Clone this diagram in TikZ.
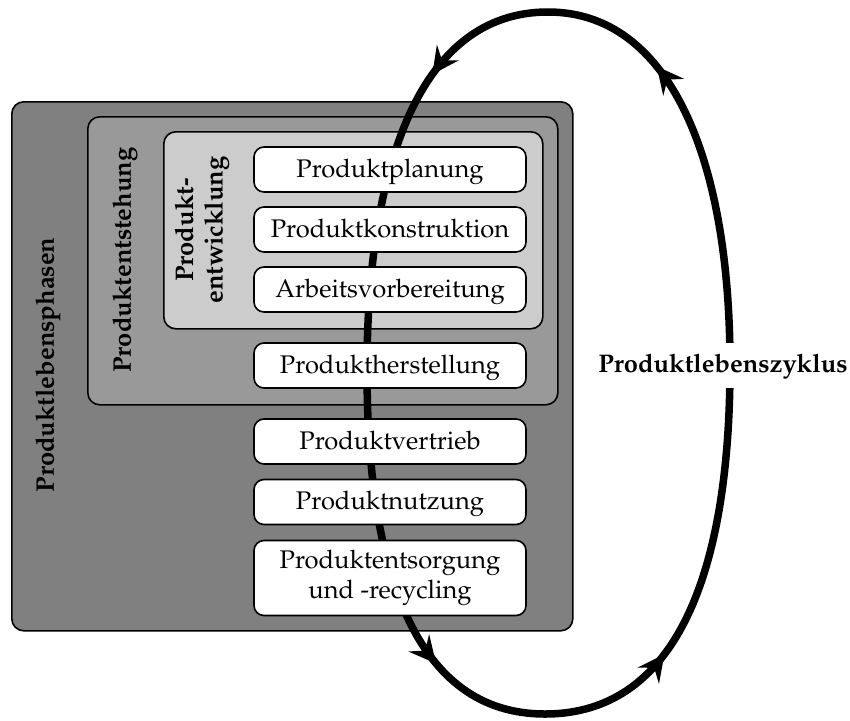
\documentclass[tikz,border=0pt]{standalone}
\usepackage[T1]{fontenc}
\usepackage{mathpazo}
\usetikzlibrary{arrows.meta,decorations.markings}

\newcommand\stagefont{\fontsize{25.5pt}{29.5pt}\selectfont}
\newcommand\headfont{\fontsize{25.5pt}{29.5pt}\selectfont\bfseries}

\definecolor{outergray}{gray}{0.50}
\definecolor{midgray}{gray}{0.60}
\definecolor{innergray}{gray}{0.80}

\tikzset{
  frame/.style={draw=black, line width=1.6pt, rounded corners=12pt,
    anchor=north west, inner sep=0pt},
  stage/.style={draw=black, line width=1.6pt, rounded corners=10pt,
    fill=white, minimum width=272pt, minimum height=45pt, inner sep=0pt,
    font=\stagefont, text height=20pt, text depth=5pt},
  sidelabel/.style={font=\headfont, rotate=90, inner sep=0pt, align=center},
  cycleline/.style={line width=7.5pt,
    >={Stealth[length=27pt,width=27pt,inset=10pt,line width=0pt]},
    postaction={decorate},
    decoration={markings,
      mark=at position 0.175 with {\arrow{>}},
      mark=at position 0.325 with {\arrow{>}},
      mark=at position 0.675 with {\arrow{>}},
      mark=at position 0.825 with {\arrow{>}}}},
}

\begin{document}
\begin{tikzpicture}[x=1pt,y=-1pt]
  \useasboundingbox (0,0) rectangle (850,720);

  % nested phase containers
  \node[frame, fill=outergray, minimum width=561pt, minimum height=529pt] (phasen) at (11,101) {};
  \node[frame, fill=midgray, minimum width=470pt, minimum height=288pt] (entstehung) at (87,116) {};
  \node[frame, fill=innergray, minimum width=379pt, minimum height=197pt] (entwicklung) at (163,131) {};

  \node[sidelabel] (lblphasen) at (48,365) {Produktlebensphasen};
  \node[sidelabel] (lblentstehung) at (125,260) {Produktentstehung};
  \node[sidelabel] (lblentwicklung) at (202,230) {Produkt-\\entwicklung};

  % life cycle loop, running behind the stage boxes
  \coordinate (L) at (367,370);
  \coordinate (B) at (545,714);
  \coordinate (R) at (730,365);
  \coordinate (T) at (548,12);
  \draw[cycleline] (L) .. controls +(0,200) and +(-130,0) .. (B)
                       .. controls +(135,0) and +(0,200) .. (R)
                       .. controls +(0,-210) and +(120,0) .. (T)
                       .. controls +(-130,0) and +(0,-200) .. (L);

  % stages
  \node[stage] (planung) at (390,169.5) {Produktplanung};
  \node[stage] (konstruktion) at (390,229.5) {Produktkonstruktion};
  \node[stage] (avor) at (390,289.5) {Arbeitsvorbereitung};
  \node[stage] (herstellung) at (390,365.5) {Produktherstellung};
  \node[stage] (vertrieb) at (390,441.5) {Produktvertrieb};
  \node[stage] (nutzung) at (390,502) {Produktnutzung};
  \node[stage, minimum height=75pt, text height=, text depth=, align=center] (entsorgung) at (390,578) {Produktentsorgung\\und -recycling};

  \node[fill=white, font=\headfont, inner sep=0pt, inner xsep=4pt, minimum height=45pt,
        text height=19pt, text depth=6pt] (zyklus) at (723,365.5) {Produktlebenszyklus};
\end{tikzpicture}
\end{document}
